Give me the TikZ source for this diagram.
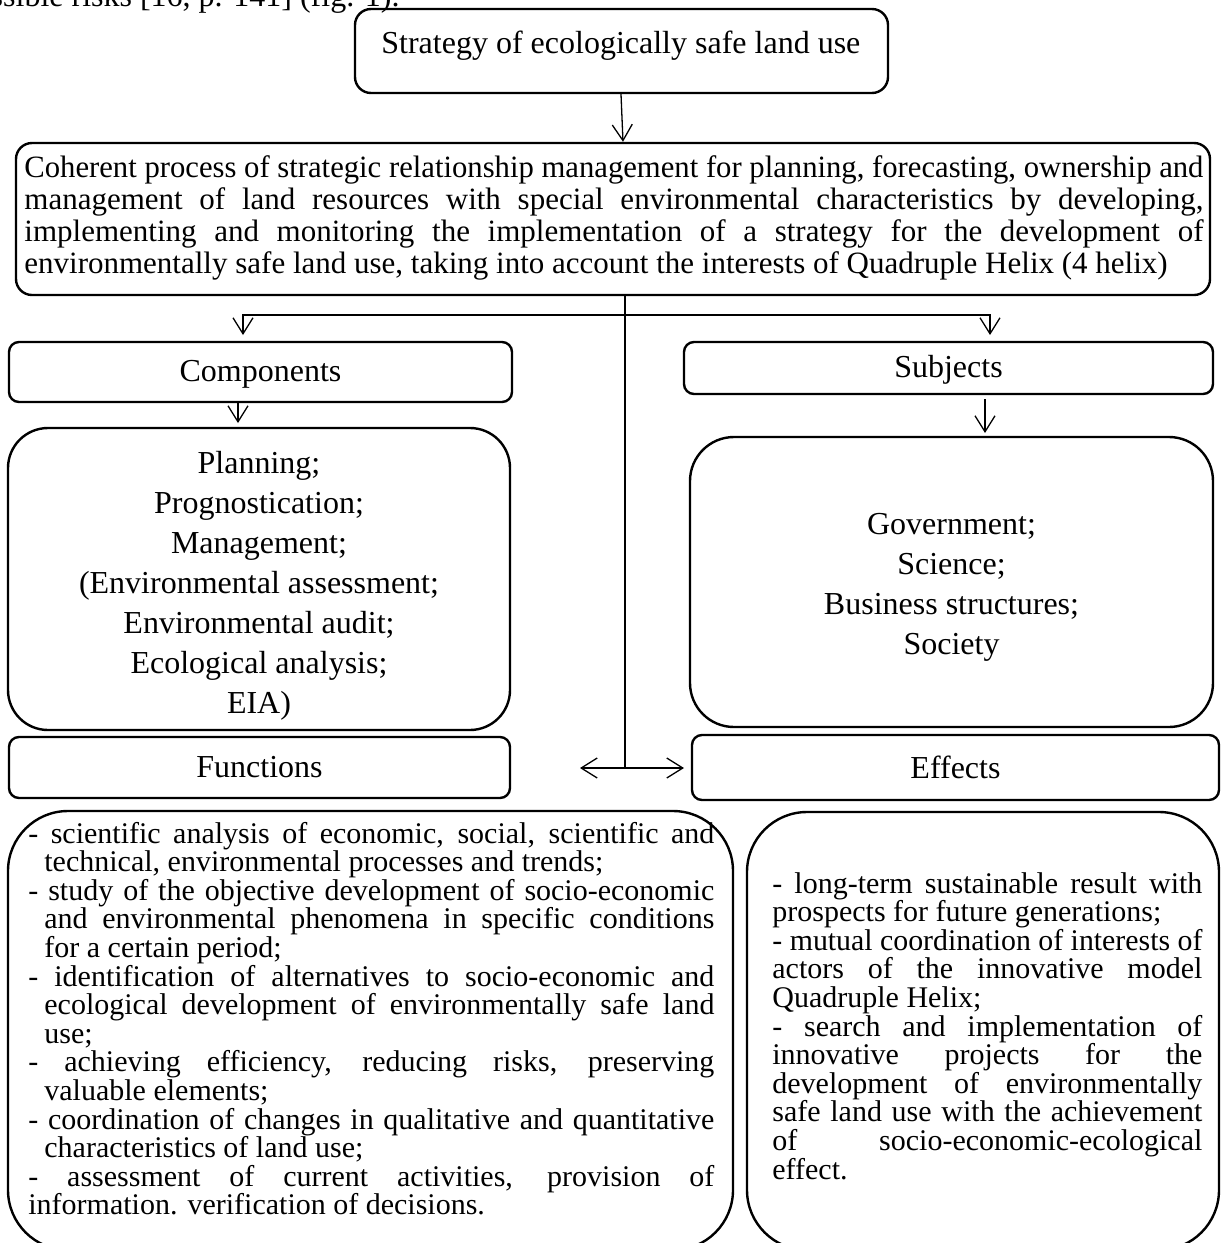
\documentclass[tikz,border=0pt]{standalone}
\usepackage{fontspec}
\usepackage{graphicx}
\setmainfont{Liberation Serif}
\usetikzlibrary{arrows.meta,fit}
\newlength\natw
\newlength\tmpw
\newlength\indw
\setlength\indw{8pt}
\newcommand\fitbox[3]{\spaceskip=0pt\xspaceskip=0pt\setlength\tmpw{#1}\settowidth\natw{#3}%
  \ifdim\natw>\tmpw\resizebox{\tmpw}{\height}{#3}\else\makebox[\tmpw][#2]{#3}\fi}
\newcommand\jl[1]{\fitbox{\linewidth}{s}{#1}}
\newcommand\lastl[1]{\fitbox{\linewidth}{l}{#1}}
\newcommand\ijl[1]{\hspace*{\indw}\fitbox{\dimexpr\linewidth-\indw\relax}{s}{#1}}
\newcommand\ilast[1]{\hspace*{\indw}\fitbox{\dimexpr\linewidth-\indw\relax}{l}{#1}}
\begin{document}
\begin{tikzpicture}[x=0.5pt,y=-0.5pt,
  box/.style={draw, line width=1.2pt, inner sep=0pt},
  smallbox/.style={box, rounded corners=5pt},
  bigbox/.style={box, rounded corners=20pt},
  hugebox/.style={box, rounded corners=30pt},
  conn/.style={line width=0.65pt},
  arr/.style={conn, -{Straight Barb[length=8pt,width=10pt]}},
  big/.style={font=\fontsize{16}{20}\selectfont, inner sep=0pt},
  mid/.style={font=\fontsize{15.5}{16}\selectfont, inner sep=0pt, align=left},
  small/.style={font=\fontsize{15}{14.3}\selectfont, inner sep=0pt, align=left},
]
\useasboundingbox (0,0) rectangle (1221,1243);
\clip (0,0) rectangle (1221,1243);

% cut line of running text
\node[big, anchor=base east] (cut) at (400,6) {possible risks [16, p. 141] (fig. 1).};

% boxes
\node[box, rounded corners=8pt, fit={(355,9) (888,93)}] (strat) {};
\node[big, anchor=west] (stratT) at (381,46) {Strategy of ecologically safe land use};

\node[box, rounded corners=8pt, fit={(16,143) (1210,295)}] (main) {};
\node[mid, anchor=base west, text width=589.5pt] (mainT) at (24,177) {%
\jl{Coherent process of strategic relationship management for planning, forecasting, ownership and}\\
\jl{management of land resources with special environmental characteristics by developing,}\\
\jl{implementing and monitoring the implementation of a strategy for the development of}\\
\lastl{environmentally safe land use, taking into account the interests of Quadruple Helix (4 helix)}};

\node[smallbox, fit={(9,342) (512,402)}] (comp) {};
\node[big] (compT) at ([yshift=-1pt]comp.center) {Components};
\node[smallbox, fit={(684,342) (1213,394)}] (subj) {};
\node[big] (subjT) at ([yshift=-1pt]subj.center) {Subjects};

\node[bigbox, fit={(8,428) (510,730)}] (compL) {};
\node[big, align=center] (compLT) at ([yshift=-3.5pt]compL.center) {Planning;\\ Prognostication;\\ Management;\\ (Environmental assessment;\\ Environmental audit;\\ Ecological analysis;\\ EIA)};
\node[bigbox, rounded corners=22pt, fit={(690,437) (1213,727)}] (subjL) {};
\node[big, align=center] (subjLT) at ([yshift=-2.5pt]subjL.center) {Government;\\ Science;\\ Business structures;\\ Society};

\node[smallbox, fit={(9,737) (510,798)}] (func) {};
\node[big] (funcT) at (func.center) {Functions};
\node[smallbox, fit={(692,735) (1219,800)}] (eff) {};
\node[big] (effT) at (eff.center) {Effects};

\node[hugebox, fit={(8,811) (733,1250)}] (funcL) {};
\node[small, anchor=base west, text width=343pt] (funcLT) at (28,843) {%
\jl{- scientific analysis of economic, social, scientific and}\\
\ilast{technical, environmental processes and trends;}\\
\jl{- study of the objective development of socio-economic}\\
\ijl{and environmental phenomena in specific conditions}\\
\ilast{for a certain period;}\\
\jl{- identification of alternatives to socio-economic and}\\
\ijl{ecological development of environmentally safe land}\\
\ilast{use;}\\
\jl{- achieving efficiency, reducing risks, preserving}\\
\ilast{valuable elements;}\\
\jl{- coordination of changes in qualitative and quantitative}\\
\ilast{characteristics of land use;}\\
\jl{- assessment of current activities, provision of}\\
\lastl{information. verification of decisions.}};

\node[hugebox, fit={(747,812) (1219,1250)}] (effL) {};
\node[small, anchor=base west, text width=215pt] (effLT) at (772,893) {%
\jl{- long-term sustainable result with}\\
\lastl{prospects for future generations;}\\
\jl{- mutual coordination of interests of}\\
\jl{actors of the innovative model}\\
\lastl{Quadruple Helix;}\\
\jl{- search and implementation of}\\
\jl{innovative projects for the}\\
\jl{development of environmentally}\\
\jl{safe land use with the achievement}\\
\jl{of socio-economic-ecological}\\
\lastl{effect.}};

% connectors
\coordinate (a1) at (621,0);
\coordinate (a2) at (623,0);
\draw[arr] (strat.south -| a1) -- (main.north -| a2);

\coordinate (tj) at (625,768);
\coordinate (bj) at (625,315);
\coordinate (ctip) at (243,335);
\coordinate (stip) at (990,335);
\draw[conn] (main.south -| tj) -- (tj);
\draw[arr] (bj) -| (ctip);
\draw[arr] (bj) -| (stip);

\coordinate (ca) at (238,423);
\draw[arr] (comp.south -| ca) -- (ca);
\coordinate (sa) at (985,433);
\draw[arr] ([yshift=-2pt]subj.south -| sa) -- (sa);

\coordinate (fa) at (580,768);
\coordinate (ea) at (684,768);
\draw[arr] (tj) -- (fa);
\draw[arr] (tj) -- (ea);
\end{tikzpicture}
\end{document}
